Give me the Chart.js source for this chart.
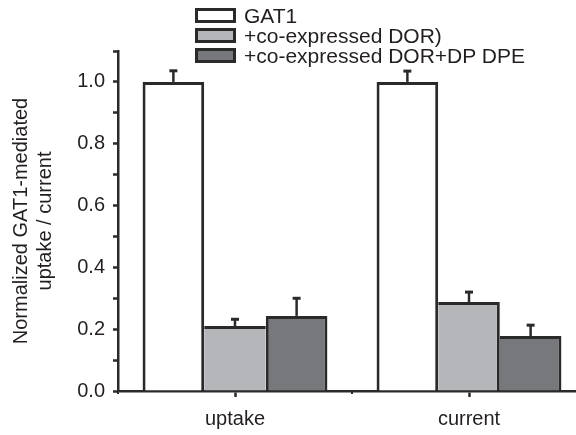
<!DOCTYPE html>
<html lang="en">

<head>
    <meta charset="UTF-8">
    <script src="https://cdn.jsdelivr.net/npm/chart.js"></script>
    <title>GAT1 uptake / current</title>
    <style>
        body { margin: 0; background: #fff; overflow: hidden; width: 576px; height: 435px; position: relative; }
        #caixa { position: absolute; left: 0; top: 0; width: 600px; height: 435px; }
        #legenda { position: absolute; left: 195px; top: 6px; font-family: "Liberation Sans", Arial, sans-serif; font-size: 21px; color: #231f20; }
        .item { height: 20px; line-height: 20px; white-space: nowrap; }
        .caixinha { display: inline-block; width: 35px; height: 9px; border: 3px solid #2a2a2a; vertical-align: middle; margin-right: 8px; position: relative; top: -2px; }
    </style>
</head>

<body>
    <div id="caixa"><canvas id="grafico" width="600" height="435"></canvas></div>
    <div id="legenda"></div>
<script>

    // dados
    const categorias = ['uptake', 'current'];
    const series = ['GAT1', '+co-expressed DOR)', '+co-expressed DOR+DP DPE'];
    const gat1 = [1.0, 1.0];
    const dor = [0.21, 0.288];
    const dorDpdpe = [0.243, 0.178];
    const gat1Erro = [0.036, 0.035];
    const dorErro = [0.022, 0.032];
    const dorDpdpeErro = [0.057, 0.035];
    const tituloY = ['Normalized GAT1-mediated', 'uptake / current'];

    const valores = [gat1, dor, dorDpdpe];
    const erros = [gat1Erro, dorErro, dorDpdpeErro];
    const cores = ['#ffffff', '#b5b6ba', '#77787c'];
    const escuro = '#2a2a2a';
    const fonte = '"Liberation Sans", Arial, sans-serif';
    const B = 3;

    // a borda compartilhada fica com a barra mais alta
    function bordas(ctx) {
        const i = ctx.datasetIndex, j = ctx.dataIndex;
        const v = valores[i][j];
        const esq = (i === 0 || v >= valores[i - 1][j]) ? B : 0;
        const dir = (i === valores.length - 1 || v > valores[i + 1][j]) ? B : 0;
        return { top: B, left: esq, right: dir, bottom: 0 };
    }

    // legenda em html
    let html = '';
    for (let i = 0; i < series.length; i++) {
        html += `<div class="item"><span class="caixinha" style="background:${cores[i]}"></span>${series[i]}</div>`;
    }
    document.getElementById('legenda').innerHTML = html;

    const barrasErro = {
        id: 'barrasErro',
        afterDatasetsDraw(chart) {
            const ctx = chart.ctx;
            const y = chart.scales.y;
            ctx.save();
            ctx.strokeStyle = escuro;
            for (let d = 0; d < valores.length; d++) {
                chart.getDatasetMeta(d).data.forEach(function (barra, j) {
                    const y0 = y.getPixelForValue(valores[d][j]);
                    const y1 = y.getPixelForValue(valores[d][j] + erros[d][j]);
                    ctx.lineWidth = 2.5;
                    ctx.beginPath();
                    ctx.moveTo(barra.x, y0);
                    ctx.lineTo(barra.x, y1);
                    ctx.stroke();
                    ctx.lineWidth = 3;
                    ctx.beginPath();
                    ctx.moveTo(barra.x - 4, y1);
                    ctx.lineTo(barra.x + 4, y1);
                    ctx.stroke();
                });
            }
            ctx.restore();
        }
    };

    const marcasX = {
        id: 'marcasX',
        afterDraw(chart) {
            const ctx = chart.ctx;
            const x = chart.scales.x;
            const w = x.getPixelForValue(1) - x.getPixelForValue(0);
            const base = chart.chartArea.bottom;
            ctx.save();
            ctx.strokeStyle = escuro;
            ctx.lineWidth = 2;
            for (let k = 0; k <= categorias.length; k++) {
                const px = x.getPixelForValue(0) - w / 2 + k * w;
                ctx.beginPath();
                ctx.moveTo(px, base);
                ctx.lineTo(px, base + 3);
                ctx.stroke();
            }
            ctx.restore();
        }
    };

    const dados = {
        labels: categorias,
        datasets: series.map(function (nome, i) {
            return {
                label: nome,
                data: valores[i],
                backgroundColor: cores[i],
                borderColor: escuro,
                borderWidth: bordas,
                borderSkipped: false,
                categoryPercentage: 0.79,
                barPercentage: 1.0
            };
        })
    };

    const config = {
        type: 'bar',
        data: dados,
        options: {
            responsive: false,
            animation: false,
            layout: { padding: { top: 51, right: 14, left: 0, bottom: 0 } },
            plugins: {
                legend: { display: false },
                tooltip: { enabled: false }
            },
            scales: {
                x: {
                    afterFit: function (s) { s.height = 44; },
                    grid: { drawOnChartArea: false, offset: false, tickLength: 6, tickWidth: 2.5, tickColor: escuro },
                    border: { color: escuro, width: 2.5 },
                    ticks: { color: '#231f20', font: { family: fonte, size: 20 }, padding: 10 }
                },
                y: {
                    min: 0,
                    max: 1.1,
                    afterFit: function (s) { s.width = 118; },
                    grid: { drawOnChartArea: false, tickLength: 5, tickWidth: 2.5, tickColor: escuro },
                    border: { color: escuro, width: 2.5 },
                    ticks: {
                        stepSize: 0.1,
                        color: '#231f20',
                        font: { family: fonte, size: 20 },
                        padding: 8,
                        callback: function (v) {
                            return Math.round(v * 10) % 2 === 0 ? v.toFixed(1) : '';
                        }
                    },
                    title: {
                        display: true,
                        text: tituloY,
                        color: '#231f20',
                        font: { family: fonte, size: 20, lineHeight: 1.2 },
                        padding: { top: 9, bottom: 0 }
                    }
                }
            }
        },
        plugins: [barrasErro, marcasX]
    };

    let myChart = new Chart(document.getElementById('grafico'), config);

</script>
</body>

</html>
